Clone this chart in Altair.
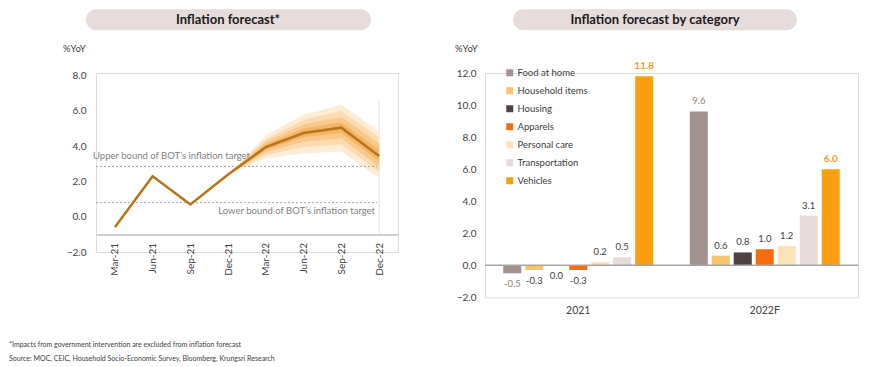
import altair as alt
import pandas as pd

FONT = "Lato"
TXT = "#404040"

# ---------------- Left panel data ----------------
quarters = ["Mar-21", "Jun-21", "Sep-21", "Dec-21", "Mar-22", "Jun-22", "Sep-22", "Dec-22"]
cpi = [-0.6, 2.3, 0.7, 2.4, 3.95, 4.75, 5.05, 3.45]

fan_quarters = ["Dec-21", "Mar-22", "Jun-22", "Sep-22", "Dec-22"]
fan1_hi = [2.4, 4.6, 5.8, 6.35, 4.85]
fan1_lo = [2.4, 3.3, 3.6, 3.7, 2.2]
fan2_hi = [2.4, 4.4, 5.5, 6.0, 4.5]
fan2_lo = [2.4, 3.5, 3.95, 4.1, 2.55]
fan3_hi = [2.4, 4.25, 5.25, 5.65, 4.15]
fan3_lo = [2.4, 3.65, 4.25, 4.45, 2.85]
fan4_hi = [2.4, 4.1, 5.0, 5.35, 3.8]
fan4_lo = [2.4, 3.8, 4.5, 4.75, 3.15]
fan_colors = ["#fdecd6", "#fbdcb2", "#f8c98a", "#f4b566"]

bound_values = [2.85, 0.8]
upper_text = "Upper bound of BOT\u2019s inflation target"
lower_text = "Lower bound of BOT\u2019s inflation target"

left_title = "Inflation forecast*"
right_title = "Inflation forecast by category"
unit = "%YoY"
footnote1 = "*Impacts from government intervention are excluded from inflation forecast"
footnote2 = "Source: MOC, CEIC, Household Socio-Economic Survey, Bloomberg, Krungsri Research"

left_ticks = [-2, 0, 2, 4, 6, 8]
right_ticks = [-2, 0, 2, 4, 6, 8, 10, 12]

# ---------------- Right panel data ----------------
categories = ["Food at home", "Household items", "Housing", "Apparels",
              "Personal care", "Transportation", "Vehicles"]
cat_colors = ["#a39290", "#f9c46e", "#4d4142", "#f86c10", "#fde3b9", "#e5dbdb", "#f99f10"]
years = ["2021", "2022F"]
vals_2021 = [-0.5, -0.3, 0.0, -0.3, 0.2, 0.5, 11.8]
vals_2022 = [9.6, 0.6, 0.8, 1.0, 1.2, 3.1, 6.0]

# ---------------- Tables ----------------
line_df = pd.DataFrame({"q": quarters, "v": cpi})
fans = [(fan1_hi, fan1_lo), (fan2_hi, fan2_lo), (fan3_hi, fan3_lo), (fan4_hi, fan4_lo)]
bounds_df = pd.DataFrame({"v": bound_values, "label": [upper_text, lower_text]})
one = pd.DataFrame({"a": [0]})

bar_df = pd.DataFrame({
    "year": [years[0]] * len(categories) + [years[1]] * len(categories),
    "cat": categories * 2,
    "v": vals_2021 + vals_2022,
})
bar_df["lbl"] = bar_df["v"].map(lambda x: f"{x:.1f}")

# ---------------- Left panel ----------------
LW, LH = 302, 179
SPACING = 55
left_x_axis = alt.Axis(title=None, labelAngle=270, labelPadding=8, ticks=False,
                       domainColor="#bfbfbf", domainWidth=1.5, offset=-17.6,
                       labelOverlap=False,
                       labelFontSize=10, labelColor=TXT, labelFont=FONT)
left_y_axis = alt.Axis(title=None, values=left_ticks, format=".1f",
                       domain=False, ticks=False, grid=False, labelPadding=10,
                       labelOverlap=False, labelBound=False,
                       labelFontSize=10, labelColor=TXT, labelFont=FONT)
xscale_l = alt.Scale(type="point", domain=quarters, padding=0.5)
yscale_l = alt.Scale(domain=[-2, 8.15], nice=False, zero=False)


def XL(field):
    return alt.X(field, type="nominal", sort=quarters, scale=xscale_l, axis=left_x_axis)


def YL(field):
    return alt.Y(field, type="quantitative", scale=yscale_l, axis=left_y_axis)


pill_l = alt.Chart(one).mark_rect(cornerRadius=11, color="#e6dcdc").encode(
    x=alt.value(-10), x2=alt.value(275), y=alt.value(-63.7), y2=alt.value(-42.7))
title_l = alt.Chart(pd.DataFrame({"t": [left_title]})).mark_text(
    font=FONT, fontWeight="bold", fontSize=13, color="#1a1a1a", baseline="middle"
).encode(x=alt.value(132), y=alt.value(-53.2), text="t:N")
unit_l = alt.Chart(pd.DataFrame({"t": [unit]})).mark_text(
    font=FONT, fontSize=9.5, color=TXT, align="left", baseline="middle"
).encode(x=alt.value(-33), y=alt.value(-23.7), text="t:N")
foot1 = alt.Chart(pd.DataFrame({"t": [footnote1]})).mark_text(
    font=FONT, fontSize=7, color=TXT, align="left", baseline="middle"
).encode(x=alt.value(-87), y=alt.value(271.5), text="t:N")
foot2 = alt.Chart(pd.DataFrame({"t": [footnote2]})).mark_text(
    font=FONT, fontSize=7, color=TXT, align="left", baseline="middle"
).encode(x=alt.value(-87), y=alt.value(285.5), text="t:N")

line = alt.Chart(line_df).mark_line(color="#b8741a", strokeWidth=2.5).encode(x=XL("q"), y=YL("v"))

fan_layers = []
for (hi, lo), col in zip(fans, fan_colors):
    df = pd.DataFrame({"q": fan_quarters, "hi": hi, "lo": lo})
    fan_layers.append(alt.Chart(df).mark_area(color=col, opacity=1).encode(
        x=XL("q"), y=YL("hi"), y2="lo:Q"))

vline = alt.Chart(pd.DataFrame({"q": ["Dec-22"], "a": [-1.0], "b": [6.6]})).mark_rule(
    color="#e3e3e3", strokeWidth=1).encode(x=XL("q"), y=YL("a"), y2="b:Q")

bound_rules = alt.Chart(bounds_df).mark_rule(color="#a6a6a6", strokeDash=[2, 2], strokeWidth=1).encode(
    y=YL("v"), x=alt.value(0), x2=alt.value(281))
upper_lbl = alt.Chart(bounds_df.iloc[[0]]).mark_text(
    font=FONT, fontSize=9.5, color="#7f7f7f", align="left", baseline="middle", dy=-10
).encode(y=YL("v"), x=alt.value(-3), text="label:N")
lower_lbl = alt.Chart(bounds_df.iloc[[1]]).mark_text(
    font=FONT, fontSize=9.5, color="#7f7f7f", align="right", baseline="middle", dy=8
).encode(y=YL("v"), x=alt.value(279), text="label:N")

left = alt.layer(vline, *fan_layers, bound_rules, upper_lbl, lower_lbl, line,
                 pill_l, title_l, unit_l, foot1, foot2).properties(width=LW, height=LH)

# ---------------- Right panel ----------------
RW, RH = 373, 224.3
right_x_axis = alt.Axis(title=None, labelAngle=0, domain=False, ticks=False, labelPadding=8,
                        labelFontSize=10.5, labelColor=TXT, labelFont=FONT)
right_y_axis = alt.Axis(title=None, values=right_ticks, format=".1f",
                        domain=False, ticks=False, grid=False, labelPadding=9,
                        labelOverlap=False, labelBound=False,
                        labelFontSize=10, labelColor=TXT, labelFont=FONT)
xscale_r = alt.Scale(domain=years, paddingInner=0, paddingOuter=0)
oscale_r = alt.Scale(domain=categories, paddingInner=0.18, paddingOuter=0.83)
yscale_r = alt.Scale(domain=[-2, 12], nice=False)


def XR():
    return alt.X("year:N", sort=years, scale=xscale_r, axis=right_x_axis)


def OR():
    return alt.XOffset("cat:N", sort=categories, scale=oscale_r)


def YR(field):
    return alt.Y(field, type="quantitative", scale=yscale_r, axis=right_y_axis)


pill_r = alt.Chart(one).mark_rect(cornerRadius=11, color="#e6dcdc").encode(
    x=alt.value(28), x2=alt.value(312), y=alt.value(-63.7), y2=alt.value(-42.7))
title_r = alt.Chart(pd.DataFrame({"t": [right_title]})).mark_text(
    font=FONT, fontWeight="bold", fontSize=13, color="#1a1a1a", baseline="middle"
).encode(x=alt.value(170), y=alt.value(-53.2), text="t:N")
unit_r = alt.Chart(pd.DataFrame({"t": [unit]})).mark_text(
    font=FONT, fontSize=9.5, color=TXT, align="left", baseline="middle"
).encode(x=alt.value(-30), y=alt.value(-23.7), text="t:N")

# legend is placed relative to the first panel's plot origin
legend_x = LW + SPACING + 30 + 22
bars = alt.Chart(bar_df).mark_bar().encode(
    x=XR(), xOffset=OR(), y=YR("v"),
    color=alt.Color("cat:N", sort=categories,
                    scale=alt.Scale(domain=categories, range=cat_colors),
                    legend=alt.Legend(title=None, orient="none", legendX=legend_x, legendY=-5,
                                      symbolType="square", symbolSize=49, symbolStrokeWidth=0,
                                      labelFont=FONT, labelFontSize=9.5, labelColor=TXT,
                                      rowPadding=7, labelOffset=3, padding=0)))

zero_df = pd.DataFrame({"z": [0.0]})
zero_rule = alt.Chart(zero_df).mark_rule(color="#a6a6a6", strokeWidth=1.5).encode(
    y=YR("z"), x=alt.value(0), x2=alt.value(RW))


def labels(filter_expr, color, dy, bold=False, size=9.5):
    return alt.Chart(bar_df).transform_filter(filter_expr).mark_text(
        font=FONT, fontSize=size, color=color, dy=dy, baseline="middle",
        fontWeight="bold" if bold else "normal"
    ).encode(x=XR(), xOffset=OR(), y=YR("v"), text="lbl:N")


lab_layers = [
    labels("datum.cat != 'Food at home' && datum.cat != 'Vehicles' && datum.v > 0", TXT, -10),
    labels("datum.cat != 'Food at home' && datum.cat != 'Vehicles' && datum.v <= 0", TXT, 11),
    labels("datum.cat == 'Food at home' && datum.v > 0", "#958584", -10),
    labels("datum.cat == 'Food at home' && datum.v <= 0", "#958584", 11),
    labels("datum.cat == 'Vehicles'", "#f39c12", -10, bold=True, size=10),
]

right = alt.layer(bars, zero_rule, *lab_layers, pill_r, title_r, unit_r).properties(
    width=RW, height=RH)

chart = alt.hconcat(left, right, spacing=SPACING).properties(padding=0).configure_view(
    stroke=None).configure_axis(labelOverlap=False).configure(background="white")

chart.save("out.html", embed_options={"renderer": "svg", "actions": False})
